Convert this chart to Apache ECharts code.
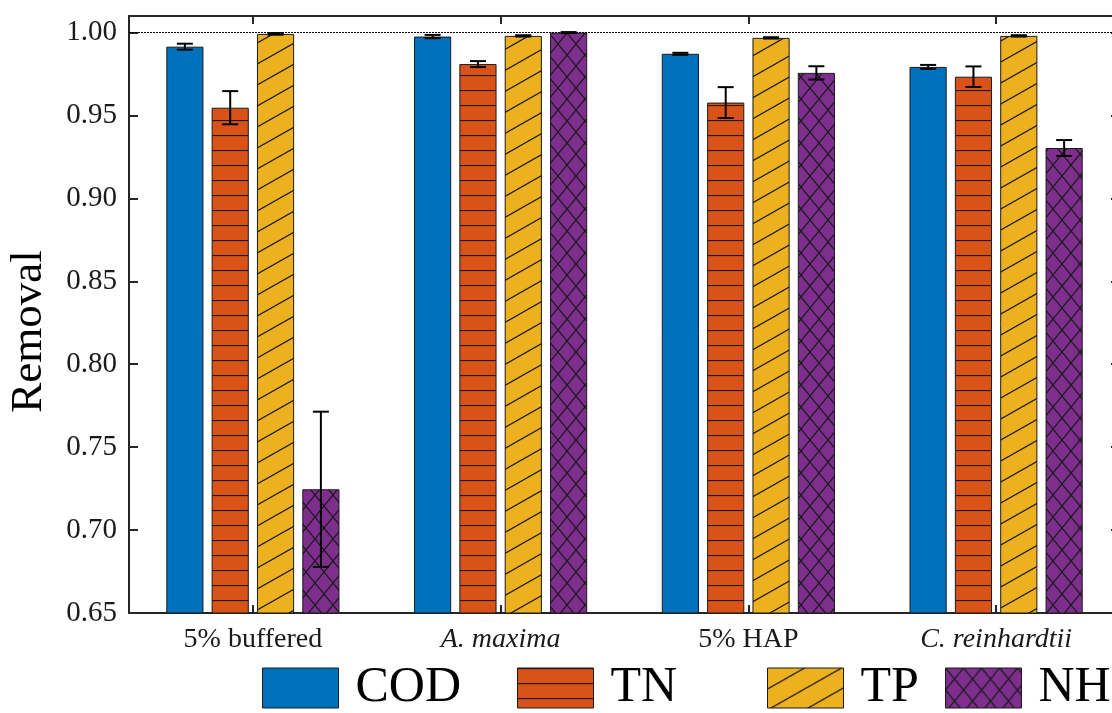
<!DOCTYPE html>
<html>
<head>
<meta charset="utf-8">
<script src="https://cdn.jsdelivr.net/npm/echarts@6/dist/echarts.min.js"></script>
<style>
  html, body { margin: 0; padding: 0; background: #fff; }
  #main { width: 1112px; height: 713px; }
</style>
</head>
<body>
<div id="main"></div>
<script>
  // data
  var categories = ['5% buffered', 'A. maxima', '5% HAP', 'C. reinhardtii']
  var italicCats = [false, true, false, true]
  var seriesNames = ['COD', 'TN', 'TP', 'NH₃']
  var codValues = [0.9915, 0.9976, 0.9872, 0.9793]
  var codErrors = [0.0018, 0.0010, 0.0006, 0.0012]
  var tnValues = [0.9547, 0.9810, 0.9578, 0.9734]
  var tnErrors = [0.0100, 0.0018, 0.0093, 0.0062]
  var tpValues = [0.9992, 0.9980, 0.9968, 0.9980]
  var tpErrors = [0.0005, 0.0004, 0.0004, 0.0004]
  var nhValues = [0.7246, 1.0000, 0.9757, 0.9304]
  var nhErrors = [0.0468, 0.0003, 0.0040, 0.0048]
  var yTicks = [0.65, 0.70, 0.75, 0.80, 0.85, 0.90, 0.95, 1.00]

  var colors = ['#0072BD', '#D95319', '#EDB120', '#7E2F8E']
  var BAR_W = 0.15
  var BAR_GAP = 0.22

  function makePattern (w, h, bg, draw) {
    var c = document.createElement('canvas')
    c.width = w
    c.height = h
    var ctx = c.getContext('2d')
    ctx.fillStyle = bg
    ctx.fillRect(0, 0, w, h)
    ctx.strokeStyle = '#1a1a1a'
    ctx.lineWidth = 1.2
    draw(ctx, w, h)
    return { image: c, repeat: 'repeat' }
  }

  var tnPattern = makePattern(10, 15, colors[1], function (ctx, w, h) {
    ctx.beginPath()
    ctx.moveTo(0, 0.5)
    ctx.lineTo(w, 0.5)
    ctx.stroke()
  })
  var tpPattern = makePattern(37, 21, colors[2], function (ctx, w, h) {
    ctx.beginPath()
    ctx.moveTo(-w, 2 * h)
    ctx.lineTo(2 * w, -h)
    ctx.moveTo(-2 * w, 2 * h)
    ctx.lineTo(w, -h)
    ctx.moveTo(0, 2 * h)
    ctx.lineTo(3 * w, -h)
    ctx.stroke()
  })
  var nhPattern = makePattern(18, 22, colors[3], function (ctx, w, h) {
    ctx.beginPath()
    ctx.moveTo(0, 0)
    ctx.lineTo(w, h)
    ctx.moveTo(w, 0)
    ctx.lineTo(0, h)
    ctx.stroke()
  })
  var fills = [colors[0], tnPattern, tpPattern, nhPattern]
  var allValues = [codValues, tnValues, tpValues, nhValues]
  var allErrors = [codErrors, tnErrors, tpErrors, nhErrors]

  var chart = echarts.init(document.getElementById('main'))

  function errorSeries (k) {
    var data = allValues[k].map(function (v, i) {
      return [i, v - allErrors[k][i], v + allErrors[k][i]]
    })
    return {
      type: 'custom',
      silent: true,
      z: 10,
      data: data,
      renderItem: function (params, api) {
        var catW = api.size([1, 0])[0]
        var bw = catW * BAR_W
        var off = (k - 1.5) * bw * (1 + BAR_GAP)
        var lo = api.coord([api.value(0), api.value(1)])
        var hi = api.coord([api.value(0), api.value(2)])
        var x = lo[0] + off
        var cap = 8
        var st = { stroke: '#000', lineWidth: 2 }
        return {
          type: 'group',
          children: [
            { type: 'line', shape: { x1: x, y1: lo[1], x2: x, y2: hi[1] }, style: st },
            { type: 'line', shape: { x1: x - cap, y1: lo[1], x2: x + cap, y2: lo[1] }, style: st },
            { type: 'line', shape: { x1: x - cap, y1: hi[1], x2: x + cap, y2: hi[1] }, style: st }
          ]
        }
      }
    }
  }

  var series = []
  seriesNames.forEach(function (name, k) {
    var s = {
      name: name,
      type: 'bar',
      barWidth: (BAR_W * 100) + '%',
      barGap: (BAR_GAP * 100) + '%',
      data: allValues[k],
      itemStyle: { color: fills[k], borderColor: '#1a1a1a', borderWidth: 1 }
    }
    if (k === 0) {
      s.markLine = {
        silent: true,
        symbol: 'none',
        label: { show: false },
        lineStyle: { color: '#000', type: [2, 1], width: 1 },
        data: [{ yAxis: 1 }]
      }
    }
    series.push(s)
  })
  seriesNames.forEach(function (name, k) { series.push(errorSeries(k)) })

  var legendLefts = [257, 512, 762, 940]
  var legends = seriesNames.map(function (name, k) {
    return {
      data: [name],
      left: legendLefts[k],
      top: 658,
      orient: 'horizontal',
      itemWidth: 76,
      itemHeight: 40,
      selectedMode: false,
      icon: 'rect',
      itemStyle: { borderColor: '#1a1a1a', borderWidth: 1 },
      textStyle: {
        fontFamily: 'Liberation Serif',
        fontSize: 50,
        color: '#000',
        padding: [0, 0, 0, 12]
      }
    }
  })

  var axisLine = { show: true, lineStyle: { color: '#262626', width: 2 } }

  chart.setOption({
    animation: false,
    color: colors,
    grid: { left: 129, right: -8, top: 16, bottom: 100, outerBoundsMode: 'none' },
    legend: legends,
    xAxis: [
      {
        type: 'category',
        data: categories,
        position: 'bottom',
        axisLine: axisLine,
        axisTick: { show: true, inside: true, alignWithLabel: true, length: 8, lineStyle: { color: '#262626', width: 2 } },
        axisLabel: {
          margin: 13,
          fontFamily: 'Liberation Serif',
          fontSize: 28,
          color: '#1a1a1a',
          formatter: function (v, i) { return italicCats[i] ? '{i|' + v + '}' : v },
          rich: { i: { fontStyle: 'italic', fontFamily: 'Liberation Serif', fontSize: 28, color: '#1a1a1a' } }
        },
        splitLine: { show: false }
      },
      {
        type: 'category',
        data: categories,
        position: 'top',
        axisLine: axisLine,
        axisTick: { show: true, inside: true, alignWithLabel: true, length: 8, lineStyle: { color: '#262626', width: 2 } },
        axisLabel: { show: false },
        splitLine: { show: false }
      }
    ],
    yAxis: [
      {
        type: 'value',
        min: 0.65,
        max: 1.01,
        interval: 0.05,
        name: 'Removal',
        nameLocation: 'middle',
        nameGap: 77,
        nameTextStyle: { fontFamily: 'Liberation Serif', fontSize: 45, color: '#000', padding: [0, 34, 0, 0] },
        axisLine: axisLine,
        axisTick: { show: true, inside: true, length: 9, customValues: yTicks, lineStyle: { color: '#262626', width: 2 } },
        axisLabel: {
          margin: 12,
          fontFamily: 'Liberation Serif',
          fontSize: 29,
          color: '#1a1a1a',
          customValues: yTicks,
          formatter: function (v) { return v.toFixed(2) }
        },
        splitLine: { show: false }
      },
      {
        type: 'value',
        min: 0.65,
        max: 1.01,
        interval: 0.05,
        position: 'right',
        axisLine: axisLine,
        axisTick: { show: true, inside: true, length: 9, customValues: yTicks, lineStyle: { color: '#262626', width: 2 } },
        axisLabel: { show: false },
        splitLine: { show: false }
      }
    ],
    series: series
  })
</script>
</body>
</html>
